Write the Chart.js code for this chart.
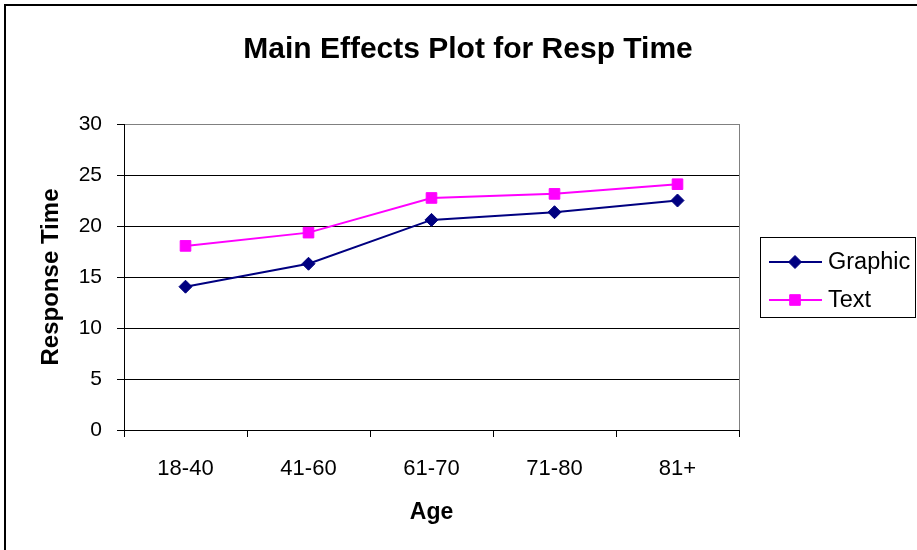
<!DOCTYPE html>
<html>
<head>
<meta charset="utf-8">
<script src="https://cdn.jsdelivr.net/npm/chart.js@4.4.1/dist/chart.umd.min.js"></script>
<style>
  html, body { margin: 0; padding: 0; background: #ffffff; overflow: hidden; }
  #wrap { width: 917px; height: 550px; }
</style>
</head>
<body>
<div id="wrap"><canvas id="c" width="917" height="550"></canvas></div>
<script>
// ---- Data ----
const categories = ['18-40', '41-60', '61-70', '71-80', '81+'];
const graphicValues = [14.05, 16.3, 20.6, 21.35, 22.5];
const textValues = [18.05, 19.35, 22.75, 23.15, 24.1];
const yTicks = [0, 5, 10, 15, 20, 25, 30];
const seriesNames = ['Graphic', 'Text'];
const chartTitle = 'Main Effects Plot for Resp Time';
const xTitle = 'Age';
const yTitle = 'Response Time';

const FONT = "'Liberation Sans', Arial, Helvetica, sans-serif";

// Frame, title, plot-area right border and legend
const decorPlugin = {
  id: 'decor',
  beforeDraw(chart) {
    const ctx = chart.ctx;
    ctx.save();
    ctx.fillStyle = '#ffffff';
    ctx.fillRect(0, 0, chart.width, chart.height);
    ctx.restore();
  },
  afterDraw(chart) {
    const ctx = chart.ctx;
    const a = chart.chartArea;
    ctx.save();
    // outer chart frame (extends beyond the visible window)
    ctx.strokeStyle = '#000000';
    ctx.lineWidth = 2;
    ctx.strokeRect(5, 5, 930, 560);
    // right border of plot area
    ctx.strokeStyle = '#808080';
    ctx.lineWidth = 1;
    ctx.beginPath();
    ctx.moveTo(Math.round(a.right) + 0.5, a.top);
    ctx.lineTo(Math.round(a.right) + 0.5, a.bottom);
    ctx.stroke();
    // title
    ctx.fillStyle = '#000000';
    ctx.font = 'bold 30px ' + FONT;
    ctx.textAlign = 'center';
    ctx.textBaseline = 'alphabetic';
    ctx.fillText(chartTitle, 468, 58);
    // legend
    const lx = 760.5, ly = 237.5, lw = 155, lh = 80;
    ctx.strokeStyle = '#000000';
    ctx.lineWidth = 1;
    ctx.strokeRect(lx, ly, lw, lh);
    const rows = [262, 300];
    chart.data.datasets.forEach((ds, i) => {
      const y = rows[i];
      ctx.strokeStyle = ds.borderColor;
      ctx.lineWidth = ds.borderWidth;
      ctx.beginPath();
      ctx.moveTo(769, y);
      ctx.lineTo(822, y);
      ctx.stroke();
      ctx.fillStyle = ds.pointBackgroundColor;
      ctx.strokeStyle = ds.pointBorderColor;
      ctx.lineWidth = 1;
      Chart.helpers.drawPoint(ctx, {pointStyle: ds.pointStyle, radius: ds.pointRadius, borderWidth: 1, rotation: 0}, 795, y);
      ctx.fillStyle = '#000000';
      ctx.font = '23.5px ' + FONT;
      ctx.textAlign = 'left';
      ctx.textBaseline = 'middle';
      ctx.fillText(ds.label, 828, y + 1);
    });
    ctx.restore();
  }
};

new Chart(document.getElementById('c'), {
  type: 'line',
  data: {
    labels: categories,
    datasets: [
      {
        label: seriesNames[0],
        data: graphicValues,
        borderColor: '#000080',
        backgroundColor: '#000080',
        pointBackgroundColor: '#000080',
        pointBorderColor: '#000080',
        borderWidth: 2,
        pointStyle: 'rectRot',
        pointRadius: 6.5,
        pointBorderWidth: 1,
        tension: 0
      },
      {
        label: seriesNames[1],
        data: textValues,
        borderColor: '#FF00FF',
        backgroundColor: '#FF00FF',
        pointBackgroundColor: '#FF00FF',
        pointBorderColor: '#FF00FF',
        borderWidth: 2,
        pointStyle: 'rect',
        pointRadius: 7.5,
        pointBorderWidth: 1,
        tension: 0
      }
    ]
  },
  options: {
    responsive: false,
    animation: false,
    devicePixelRatio: 1,
    layout: { padding: { left: 0, top: 124, right: 178, bottom: 0 } },
    plugins: {
      legend: { display: false },
      title: { display: false },
      tooltip: { enabled: false }
    },
    scales: {
      x: {
        type: 'category',
        offset: true,
        afterFit(scale) { scale.height = 120; },
        grid: {
          offset: true,
          drawOnChartArea: false,
          drawTicks: true,
          tickLength: 7,
          color: '#000000',
          lineWidth: 1
        },
        border: { display: true, color: '#000000', width: 1 },
        ticks: {
          color: '#000000',
          font: { family: FONT, size: 22 },
          padding: 19,
          maxRotation: 0
        },
        title: {
          display: true,
          text: xTitle,
          color: '#000000',
          font: { family: FONT, size: 23, weight: 'bold' },
          padding: { top: 0, bottom: 24 }
        }
      },
      y: {
        min: 0,
        max: 30,
        afterFit(scale) { scale.width = 124; },
        afterBuildTicks(scale) { scale.ticks = yTicks.map(v => ({ value: v })); },
        grid: {
          drawTicks: true,
          tickLength: 7,
          color: (c) => (c.tick && c.tick.value === 30 ? '#808080' : '#000000'),
          tickColor: '#000000',
          lineWidth: 1
        },
        border: { display: true, color: '#000000', width: 1 },
        ticks: {
          color: '#000000',
          font: { family: FONT, size: 21 },
          padding: 15
        },
        title: {
          display: true,
          text: yTitle,
          color: '#000000',
          font: { family: FONT, size: 24, weight: 'bold' },
          padding: { top: 37, bottom: 0 }
        }
      }
    }
  },
  plugins: [decorPlugin]
});
</script>
</body>
</html>
